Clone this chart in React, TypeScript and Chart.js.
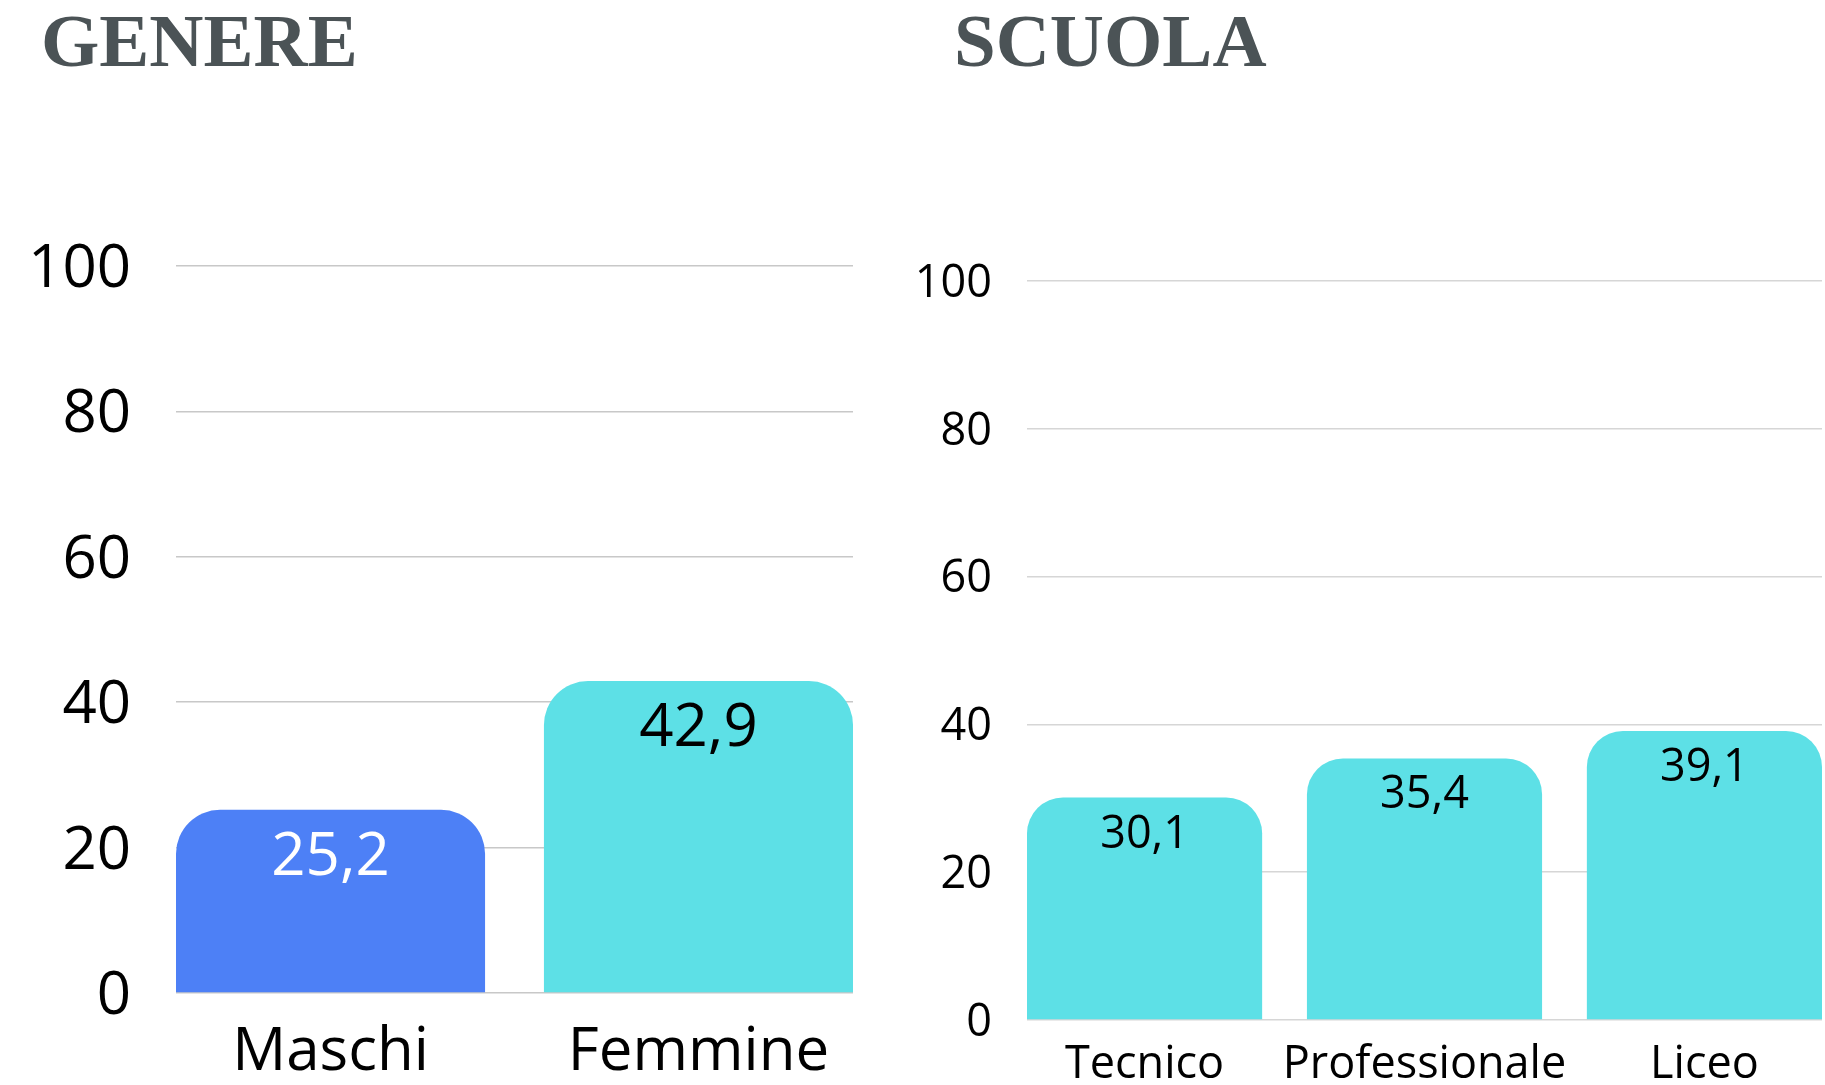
import React, { useEffect, useRef } from "react";
import { Chart, registerables } from "chart.js";

Chart.register(...registerables);

// ---- Data ----
const genereCategories = ["Maschi", "Femmine"];
const genereValues = [25.2, 42.9];
const genereColors = ["#4d80f6", "#5de0e6"];
const genereLabelColors = ["#ffffff", "#000000"];

const scuolaCategories = ["Tecnico", "Professionale", "Liceo"];
const scuolaValues = [30.1, 35.4, 39.1];
const scuolaColors = ["#5de0e6", "#5de0e6", "#5de0e6"];
const scuolaLabelColors = ["#000000", "#000000", "#000000"];

const yTicks = [0, 20, 40, 60, 80, 100];

const fmt = (v: number) => v.toFixed(1).replace(".", ",");

const valueLabelPlugin = {
  id: "valueLabels",
  afterDatasetsDraw(chart: any, _args: any, opts: any) {
    const ctx = chart.ctx;
    const meta = chart.getDatasetMeta(0);
    const ds = chart.data.datasets[0];
    ctx.save();
    ctx.font = `${opts.size}px "Open Sans"`;
    ctx.textAlign = "center";
    ctx.textBaseline = "alphabetic";
    meta.data.forEach((el: any, i: number) => {
      ctx.fillStyle = opts.colors[i];
      ctx.fillText(fmt(ds.data[i].y), el.x, el.y + opts.offset);
    });
    ctx.restore();
  },
};

type Cfg = {
  categories: string[];
  values: number[];
  colors: string[];
  labelColors: string[];
  fontSize: number;
  yAxisWidth: number;
  xAxisHeight: number;
  yPad: number;
  yLabelShift: number;
  xPad: number;
  padTop: number;
  padRight: number;
  radius: number;
  labelOffset: number;
  gridColor: string;
};

function BarPanel({ cfg, style }: { cfg: Cfg; style: React.CSSProperties }) {
  const ref = useRef<HTMLCanvasElement | null>(null);
  useEffect(() => {
    if (!ref.current) return;
    const n = cfg.categories.length;
    const chart = new Chart(ref.current, {
      type: "bar",
      data: {
        datasets: [
          {
            data: cfg.values.map((v, i) => ({ x: i, y: v })),
            backgroundColor: cfg.colors,
            borderWidth: 0,
            borderSkipped: false,
            borderRadius: {
              topLeft: cfg.radius,
              topRight: cfg.radius,
              bottomLeft: 0,
              bottomRight: 0,
            },
            categoryPercentage: 1,
            barPercentage: 0.84,
          } as any,
        ],
      },
      options: {
        animation: false,
        responsive: false,
        maintainAspectRatio: false,
        layout: {
          padding: {
            top: cfg.padTop,
            right: cfg.padRight,
            bottom: 0,
            left: 0,
          },
        },
        plugins: {
          legend: { display: false },
          tooltip: { enabled: false },
          title: { display: false },
          valueLabels: {
            size: cfg.fontSize,
            offset: cfg.labelOffset,
            colors: cfg.labelColors,
          },
        } as any,
        scales: {
          x: {
            type: "linear",
            offset: false,
            min: -0.42,
            max: n - 1 + 0.42,
            grid: { display: false, drawTicks: false, offset: false },
            border: { display: false },
            afterBuildTicks: (scale: any) => {
              scale.ticks = cfg.categories.map((_, i) => ({ value: i }));
            },
            afterFit: (scale: any) => {
              scale.height = cfg.xAxisHeight;
            },
            ticks: {
              autoSkip: false,
              maxRotation: 0,
              minRotation: 0,
              padding: cfg.xPad,
              color: "#000000",
              font: { family: "Open Sans", size: cfg.fontSize },
              callback: (v: any) => cfg.categories[Math.round(Number(v))] ?? "",
            },
          },
          y: {
            min: 0,
            max: 100,
            afterBuildTicks: (scale: any) => {
              scale.ticks = yTicks.map((v) => ({ value: v }));
            },
            afterFit: (scale: any) => {
              scale.width = cfg.yAxisWidth;
            },
            grid: {
              color: cfg.gridColor,
              lineWidth: 1.5,
              drawTicks: false,
            },
            border: { display: false },
            ticks: {
              padding: cfg.yPad,
              labelOffset: cfg.yLabelShift,
              color: "#000000",
              font: { family: "Open Sans", size: cfg.fontSize },
            },
          },
        },
      } as any,
      plugins: [valueLabelPlugin],
    });
    return () => chart.destroy();
  }, []);
  return (
    <canvas
      ref={ref}
      width={style.width as number}
      height={style.height as number}
      style={{ position: "absolute", ...style }}
    />
  );
}

const titleStyle: React.CSSProperties = {
  position: "absolute",
  fontFamily: '"Liberation Serif", serif',
  fontWeight: "bold",
  fontSize: 75,
  lineHeight: 1,
  color: "#4b5356",
  margin: 0,
  whiteSpace: "nowrap",
};

export default function App() {
  const left: Cfg = {
    categories: genereCategories,
    values: genereValues,
    colors: genereColors,
    labelColors: genereLabelColors,
    fontSize: 60,
    yAxisWidth: 176,
    xAxisHeight: 92,
    yPad: 45,
    yLabelShift: 4,
    xPad: 24,
    padTop: 266,
    padRight: 27,
    radius: 44,
    labelOffset: 65,
    gridColor: "#c8c8c8",
  };
  const right: Cfg = {
    categories: scuolaCategories,
    values: scuolaValues,
    colors: scuolaColors,
    labelColors: scuolaLabelColors,
    fontSize: 45,
    yAxisWidth: 147,
    xAxisHeight: 65,
    yPad: 35,
    yLabelShift: 3,
    xPad: 18,
    padTop: 281,
    padRight: 3,
    radius: 36,
    labelOffset: 50,
    gridColor: "#d6d6d6",
  };
  return (
    <div
      style={{
        position: "fixed",
        left: 0,
        top: 0,
        width: 1825,
        height: 1085,
        background: "#ffffff",
        overflow: "hidden",
      }}
    >
      <div style={{ ...titleStyle, left: 41, top: 3 }}>GENERE</div>
      <div style={{ ...titleStyle, left: 954, top: 3 }}>SCUOLA</div>
      <BarPanel cfg={left} style={{ left: 0, top: 0, width: 880, height: 1085 }} />
      <BarPanel cfg={right} style={{ left: 880, top: 0, width: 945, height: 1085 }} />
    </div>
  );
}
